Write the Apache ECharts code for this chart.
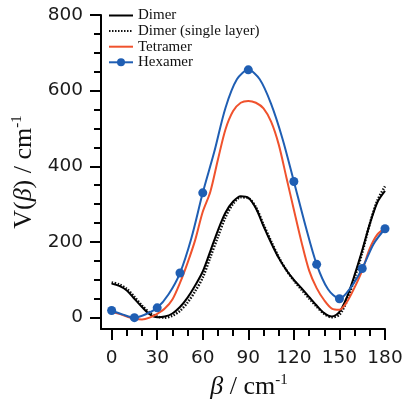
<!DOCTYPE html>
<html>
<head>
<meta charset="utf-8">
<script src="https://cdn.jsdelivr.net/npm/echarts@6/dist/echarts.min.js"></script>
<style>html,body{margin:0;padding:0;background:#fff}#c{width:407px;height:403px}</style>
</head>
<body>
<div id="c"></div>
<script>
var seriesNames = ['Dimer', 'Dimer (single layer)', 'Tetramer', 'Hexamer'];
var beta = [0,5,10,15,20,25,30,35,40,45,50,55,60,65,70,75,80,85,90,95,100,105,110,115,120,125,130,135,140,145,150,155,160,165,170,175,180];
var dimer = [90,84,72,50,28,9,1,3,11,28,53,85,122,176,231,278,307,321,317,289,242,198,158,126,100,78,55,32,12,3,15,55,113,178,248,305,335];
var dimerSingle = [93,88,76,55,32,13,3,0,5,18,40,70,106,160,214,266,301,318,316,292,246,202,160,126,98,74,51,29,10,1,8,45,105,172,248,310,347];
var tetramer = [15,10,3,-3,-5,0,10,24,48,92,145,205,280,333,418,498,546,568,573,568,553,518,458,372,285,200,125,78,46,24,21,42,80,125,183,220,236];
var hexBeta = [0,7.5,15,22.5,30,37.5,45,52.5,60,67.5,75,82.5,90,97.5,105,112.5,120,127.5,135,142.5,150,157.5,165,172.5,180];
var hexV = [19,8,0,9,26,62,118,210,330,437,555,630,655,630,565,473,360,245,141,75,50,80,130,195,235];
var hexMarked = [1,0,1,0,1,0,1,0,1,0,0,0,1,0,0,0,1,0,1,0,1,0,1,0,1];
var xMajor = [0,30,60,90,120,150,180];
var xMinor = [10,20,40,50,70,80,100,110,130,140,160,170];
var yMajor = [0,200,400,600,800];
var yMinor = [50,100,150,250,300,350,450,500,550,650,700,750];

function pairs(xs, ys){ return xs.map(function(x,i){ return [x, ys[i]]; }); }

var chart = echarts.init(document.getElementById('c'), null, {renderer:'canvas'});
var tickFont = {fontFamily:'DejaVu Sans', fontSize:18.5, color:'#1a1a1a'};
var axisLineStyle = {color:'#000', width:2};
var xRange = {min:-7, max:180};
var yRange = {min:-30, max:800};
var titleRich = {
  i:{fontFamily:'Liberation Serif', fontStyle:'italic', fontSize:26, color:'#111'},
  sup:{fontFamily:'Liberation Serif', fontSize:15, color:'#111', padding:[0,0,13,0]}
};

chart.setOption({
  animation:false,
  backgroundColor:'#fff',
  grid:{left:101, right:22, top:15, bottom:74, outerBoundsMode:'none', containLabel:false},
  legend:{
    orient:'vertical', left:108, top:8, padding:0, itemWidth:24, itemHeight:10, itemGap:0.6, itemTextGap:6,
    data:[
      {name:seriesNames[0], itemStyle:{opacity:0}},
      {name:seriesNames[1], itemStyle:{opacity:0}},
      {name:seriesNames[2], itemStyle:{opacity:0}},
      {name:seriesNames[3]}
    ],
    textStyle:{fontFamily:'Liberation Serif', fontSize:15, color:'#111'}
  },
  xAxis:[
    {type:'value', min:xRange.min, max:xRange.max, position:'bottom',
     axisLine:{show:true, onZero:false, lineStyle:axisLineStyle},
     axisTick:{show:true, length:11, lineStyle:{color:'#000', width:2}, customValues:xMajor},
     axisLabel:{show:true, margin:20, customValues:xMajor, fontFamily:tickFont.fontFamily, fontSize:tickFont.fontSize, color:tickFont.color},
     splitLine:{show:false},
     name:'{i|β} / cm{sup|-1}', nameLocation:'middle', nameGap:41,
     nameTextStyle:{fontFamily:'Liberation Serif', fontSize:26, color:'#111', padding:[0,0,0,12], rich:titleRich}
    },
    {type:'value', min:xRange.min, max:xRange.max, position:'bottom',
     axisLine:{show:false, onZero:false},
     axisTick:{show:true, length:7, lineStyle:{color:'#000', width:2}, customValues:xMinor},
     axisLabel:{show:false}, splitLine:{show:false}
    }
  ],
  yAxis:[
    {type:'value', min:yRange.min, max:yRange.max, position:'left',
     axisLine:{show:true, onZero:false, lineStyle:axisLineStyle},
     axisTick:{show:true, length:11, lineStyle:{color:'#000', width:2}, customValues:yMajor},
     axisLabel:{show:true, margin:18, customValues:yMajor, fontFamily:tickFont.fontFamily, fontSize:tickFont.fontSize, color:tickFont.color},
     splitLine:{show:false},
     name:'V({i|β}) / cm{sup|-1}', nameLocation:'middle', nameGap:57, nameRotate:90,
     nameTextStyle:{fontFamily:'Liberation Serif', fontSize:26, color:'#111', rich:titleRich}
    },
    {type:'value', min:yRange.min, max:yRange.max, position:'left',
     axisLine:{show:false, onZero:false},
     axisTick:{show:true, length:7, lineStyle:{color:'#000', width:2}, customValues:yMinor},
     axisLabel:{show:false}, splitLine:{show:false}
    }
  ],
  series:[
    {name:seriesNames[0], type:'line', smooth:0.3, showSymbol:false, symbol:'none',
     data:pairs(beta, dimer), lineStyle:{color:'#000', width:2}, itemStyle:{color:'#000'}, z:3},
    {name:seriesNames[1], type:'line', smooth:0.3, showSymbol:false, symbol:'none',
     data:pairs(beta, dimerSingle), lineStyle:{color:'#111', width:2.5, type:[1.5,1.5]}, itemStyle:{color:'#111'}, z:2},
    {name:seriesNames[2], type:'line', smooth:0.3, showSymbol:false, symbol:'none',
     data:pairs(beta, tetramer), lineStyle:{color:'#f0522d', width:2}, itemStyle:{color:'#f0522d'}, z:4},
    {name:seriesNames[3], type:'line', smooth:0.3, symbol:'circle', symbolSize:9, showSymbol:true,
     data:hexBeta.map(function(b,i){ return {value:[b, hexV[i]], symbol: hexMarked[i] ? 'circle' : 'none'}; }),
     lineStyle:{color:'#1f5eb3', width:2}, itemStyle:{color:'#1f5eb3'}, z:5}
  ]
});
</script>
</body>
</html>
